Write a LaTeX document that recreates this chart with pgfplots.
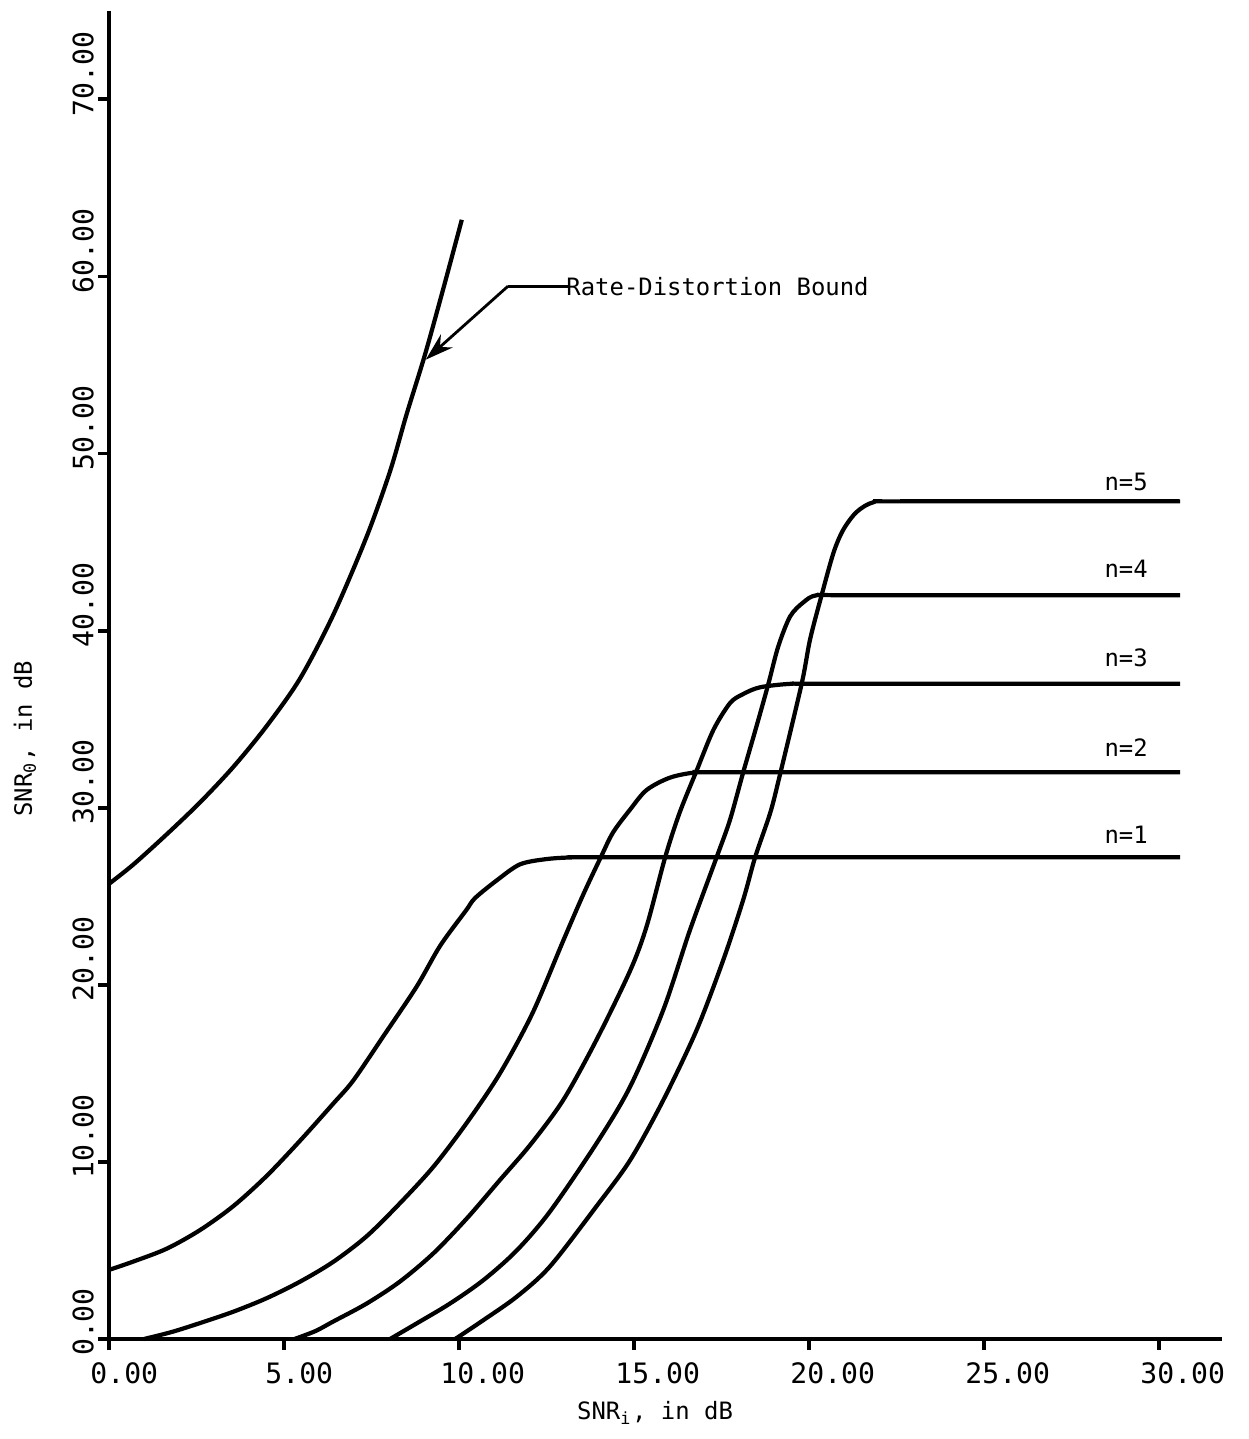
\documentclass[border=0pt]{standalone}
\usepackage{fontspec}
\setmainfont{DejaVu Sans Mono}
\usepackage{pgfplots}
\pgfplotsset{compat=1.18}
\usetikzlibrary{arrows.meta}

\newcommand\xl[1]{\makebox[0pt][l]{\kern-0.66em#1}}
\newcommand\yl[1]{\makebox[0pt][l]{\kern-0.6em#1}}
\pgfplotsset{curve/.style={black, solid, line width=1.2pt, smooth, tension=0.5, mark=none}}

\begin{document}
\begin{tikzpicture}
\begin{axis}[
  x=0.35cm, y=0.1771cm,
  xmin=0, xmax=31.8, ymin=0, ymax=75,
  axis x line*=bottom, axis y line*=left,
  axis line style={line width=1.2pt, -, black},
  xtick={0,5,10,15,20,25,30},
  xticklabels={\xl{0.00},\xl{5.00},\xl{10.00},\xl{15.00},\xl{20.00},\xl{25.00},\xl{30.00}},
  ytick={0,10,20,30,40,50,60,70},
  yticklabels={\yl{0.00},\yl{10.00},\yl{20.00},\yl{30.00},\yl{40.00},\yl{50.00},\yl{60.00},\yl{70.00}},
  tick align=outside,
  major tick length=0.11cm,
  tick style={line width=1.1pt, black},
  minor tick num=0,
  xticklabel style={anchor=north},
  yticklabel style={rotate=90, anchor=south, inner sep=1pt},
  tick label style={font=\fontsize{8}{9}\selectfont},
  xlabel={SNR\textsubscript{i}, in dB},
  ylabel={SNR\textsubscript{0}, in dB},
  every axis x label/.style={at={(axis description cs:0.4906,-0.0557)}, anchor=center, font=\fontsize{6.8}{8}\selectfont},
  every axis y label/.style={at={(axis description cs:-0.0755,0.452)}, anchor=center, rotate=90, font=\fontsize{6.8}{8}\selectfont},
  clip=false,
]
% Rate-distortion bound
\addplot[curve] coordinates {(0,25.7) (0.7,26.8) (1.65,28.5) (2.6,30.3) (3.55,32.3) (4.5,34.6) (5.46,37.3) (6.41,40.9) (7.36,45.3) (8.03,49.0) (8.5,52.2) (9.03,55.6) (9.55,59.3) (10.08,63.2)};
% n=1
\addplot[curve] coordinates {(0,3.9) (0.69,4.37) (1.65,5.1) (2.6,6.15) (3.55,7.5) (4.5,9.2) (5.46,11.2) (6.41,13.3) (6.98,14.6) (7.84,17.1) (8.79,19.9) (9.46,22.2) (10.2,24.2) (10.46,24.9) (11.08,25.9) (11.74,26.8) (12.5,27.1) (13.3,27.2) (14.5,27.2) (30.6,27.2)};
% n=2
\addplot[curve] coordinates {(1.0,0) (1.8,0.4) (2.6,0.9) (3.55,1.54) (4.5,2.3) (5.46,3.24) (6.41,4.36) (7.36,5.8) (8.31,7.66) (9.27,9.73) (10.22,12.2) (11.17,15.0) (12.1,18.4) (12.98,22.5) (13.55,25.1) (14.05,27.2) (14.4,28.6) (14.89,29.9) (15.36,31.0) (16.03,31.7) (16.8,32.0) (17.8,32.0) (30.6,32.0)};
% n=3
\addplot[curve] coordinates {(5.3,0) (5.9,0.45) (6.4,0.98) (7.36,2.0) (8.31,3.24) (9.27,4.84) (10.22,6.8) (11.17,8.98) (12.05,11.0) (12.98,13.5) (13.93,16.9) (14.89,20.8) (15.36,23.3) (15.89,27.2) (16.3,29.7) (16.79,32.1) (17.27,34.4) (17.74,35.9) (18.1,36.4) (18.6,36.8) (19.5,37.0) (20.5,37.0) (30.6,37.0)};
% n=4
\addplot[curve] coordinates {(8.03,0) (8.79,0.88) (9.74,2.0) (10.7,3.33) (11.65,5.0) (12.6,7.2) (13.93,11.05) (14.89,14.25) (15.84,18.6) (16.6,23.1) (17.36,27.2) (17.74,29.3) (18.12,32.0) (18.5,34.6) (18.84,37.0) (19.12,39.1) (19.46,40.8) (19.84,41.6) (20.22,42.0) (21.2,42.0) (30.6,42.0)};
% n=5
\addplot[curve] coordinates {(9.89,0) (10.7,1.07) (11.65,2.39) (12.6,4.1) (13.93,7.5) (14.89,10.1) (15.84,13.5) (16.79,17.45) (17.55,21.4) (18.12,24.8) (18.46,27.2) (18.89,29.7) (19.15,31.7) (19.79,37.0) (20.03,39.5) (20.36,42.0) (20.7,44.4) (20.98,45.7) (21.36,46.7) (21.84,47.25) (22.6,47.3) (30.6,47.3)};

% annotation
\draw[line width=0.8pt] (axis cs:13.1,59.45) -- (axis cs:11.4,59.45);
\draw[line width=0.8pt, -{Stealth[length=8pt,width=5pt]}] (axis cs:11.4,59.45) -- (axis cs:9.05,55.3);
\node[anchor=west, inner sep=0pt, font=\fontsize{6.8}{8}\selectfont] at (axis cs:13.05,59.45) {Rate-Distortion Bound};

\node[font=\fontsize{6.8}{8}\selectfont] at (axis cs:29.06,48.4) {n=5};
\node[font=\fontsize{6.8}{8}\selectfont] at (axis cs:29.06,43.5) {n=4};
\node[font=\fontsize{6.8}{8}\selectfont] at (axis cs:29.06,38.45) {n=3};
\node[font=\fontsize{6.8}{8}\selectfont] at (axis cs:29.06,33.4) {n=2};
\node[font=\fontsize{6.8}{8}\selectfont] at (axis cs:29.06,28.5) {n=1};
\end{axis}
\pgfresetboundingbox
\path[use as bounding box] (-1.09,-1.00) rectangle (11.40,13.39);
\end{tikzpicture}
\end{document}
